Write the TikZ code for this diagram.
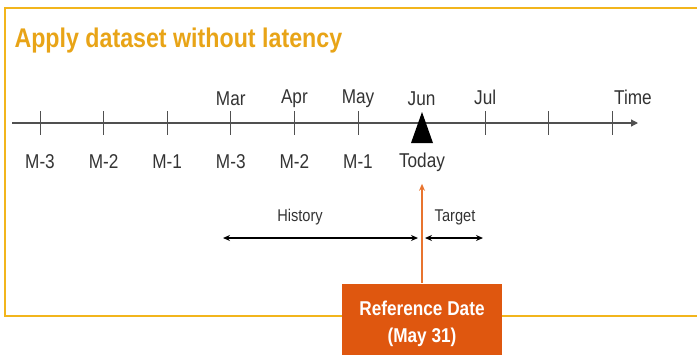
\documentclass[tikz,border=0pt]{standalone}
\usepackage{fontspec}
\setmainfont[FakeStretch=0.86]{Liberation Sans}
\usepackage{tikz}
\usetikzlibrary{arrows.meta}

\definecolor{frameyellow}{HTML}{F2B51C}
\definecolor{titleyellow}{HTML}{E8A417}
\definecolor{refbox}{HTML}{DF570F}
\definecolor{refline}{HTML}{E8742F}
\definecolor{axisgray}{HTML}{505050}
\definecolor{labelgray}{HTML}{333333}

\begin{document}
\begin{tikzpicture}[x=1pt, y=-1pt, >=Stealth, line width=1pt,
  tick/.style={axisgray, line width=0.9pt},
  monthlbl/.style={font=\fontsize{20}{22}\selectfont, text=labelgray, inner sep=1pt},
  spanlbl/.style={font=\fontsize{17}{19}\selectfont, text=labelgray, inner sep=1pt},
  spanarrow/.style={{Stealth[length=7pt,width=6pt]}-{Stealth[length=7pt,width=6pt]}, line width=1.2pt}]
\useasboundingbox (0,0) rectangle (697,354);
\clip (0,0) rectangle (697,354);
\def\ax{123}
\def\dx{63.6}
% frame, open on the right
\draw[frameyellow, line width=2.6pt] (5,8) rectangle (720,316);
\node[anchor=west, font=\bfseries\fontsize{27}{30}\selectfont, text=titleyellow, inner sep=0pt] (title) at (14,41) {Apply dataset without latency};
% time axis
\coordinate (axstart) at (12,\ax);
\coordinate (axend) at (638,\ax);
\draw[axisgray, line width=1.2pt, -{Triangle[length=7pt,width=7pt]}] (axstart) -- (axend);
\foreach \i in {0,...,5,7,8,9}
  \draw[tick] ({40+\i*\dx},\ax-12) -- ({40+\i*\dx},\ax+12);
\node[monthlbl] (mar) at ({40+3*\dx},99) {Mar};
\node[monthlbl] (apr) at ({40+4*\dx},99) {Apr};
\node[monthlbl] (may) at ({40+5*\dx},99) {May};
\node[monthlbl] (jun) at ({40+6*\dx},99) {Jun};
\node[monthlbl] (jul) at ({40+7*\dx},97) {Jul};
\node[monthlbl] (time) at (633,97) {Time};
\foreach \lbl [count=\k from 0] in {M-3,M-2,M-1,M-3,M-2,M-1}
  \node[monthlbl] (lo\k) at ({40+\k*\dx},162) {\lbl};
\node[monthlbl] (today) at (422,162) {Today};
\fill (422,112) -- (433,143) -- (411,143) -- cycle;
% history / target spans
\coordinate (hstart) at (223,238);
\coordinate (hend) at (418,238);
\coordinate (tstart) at (425,238);
\coordinate (tend) at (483,238);
\draw[spanarrow] (hstart) -- (hend);
\draw[spanarrow] (tstart) -- (tend);
\node[spanlbl] (history) at (300,217) {History};
\node[spanlbl] (target) at (455,217) {Target};
% reference date
\node[anchor=north, fill=refbox, minimum width=160pt, minimum height=80pt, align=center,
  text=white, font=\bfseries\fontsize{20}{27}\selectfont] (refdate) at (422,283) {Reference Date\\(May 31)};
\draw[refline, line width=1.6pt, -{Stealth[length=7pt,width=6pt]}] (refdate.north) -- ([yshift=-11pt]today.south);
\end{tikzpicture}
\end{document}
